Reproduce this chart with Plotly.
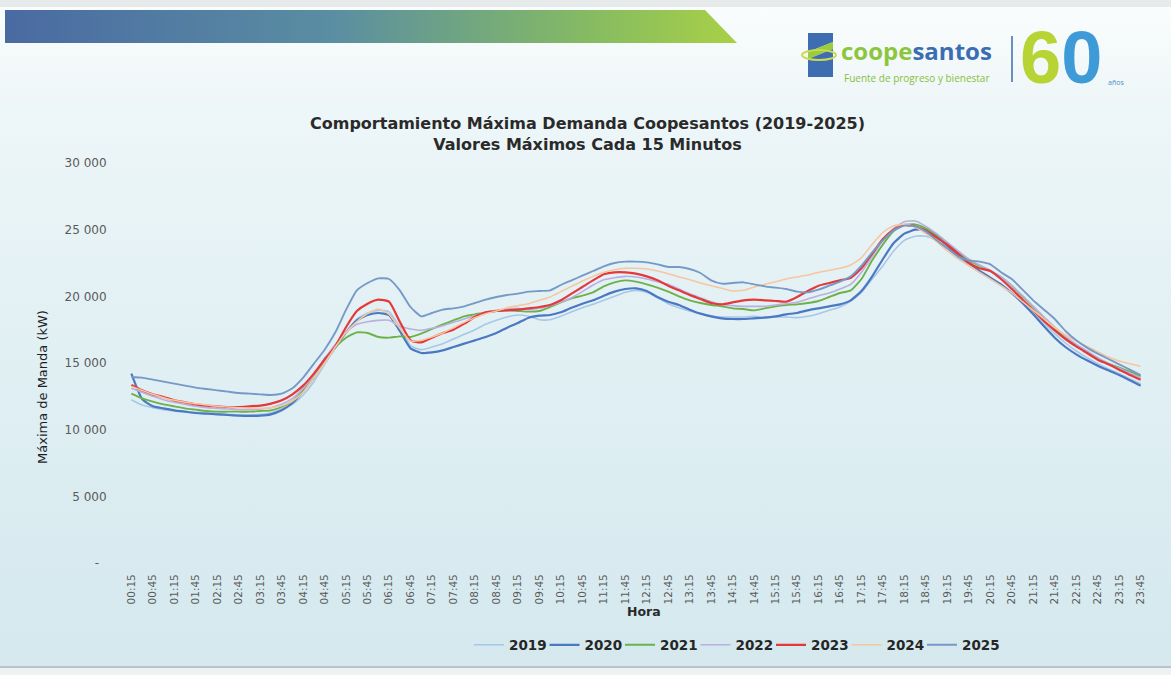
import base64
import plotly.graph_objects as go

# ---------------- data ----------------
HORAS = [f"{((i + 1) * 15) // 60:02d}:{((i + 1) * 15) % 60:02d}" for i in range(95)]
TICK_HORAS = HORAS[::2]

ANIOS = ["2019", "2020", "2021", "2022", "2023", "2024", "2025"]

D2019 = [12250, 11850, 11650, 11500, 11400, 11350, 11300, 11250, 11200, 11150,
         11100, 11100, 11150, 11250, 11550, 11900, 12600, 13600, 14900, 16100,
         17300, 18300, 18750, 18950, 18850, 17700, 16300, 16000, 16200, 16450,
         16800, 17150, 17500, 17900, 18200, 18450, 18600, 18500, 18250, 18250,
         18500, 18850, 19150, 19400, 19700, 20000, 20300, 20450, 20300, 19900,
         19450, 19150, 18900, 18700, 18550, 18450, 18450, 18450, 18500, 18450,
         18450, 18450, 18400, 18500, 18700, 18950, 19200, 19650, 20300, 21300,
         22300, 23400, 24200, 24500, 24500, 24200, 23600, 22900, 22300, 21800,
         21300, 20800, 20200, 19500, 18800, 18000, 17200, 16500, 15900, 15400,
         14950, 14550, 14200, 13800, 13450]

D2020 = [14200, 12300, 11750, 11600, 11450, 11350, 11250, 11200, 11150, 11100,
         11050, 11030, 11050, 11150, 11450, 12000, 12900, 14000, 15300, 16200,
         17300, 18200, 18600, 18750, 18600, 17400, 16100, 15750, 15800, 15950,
         16200, 16450, 16700, 16950, 17250, 17650, 18000, 18400, 18550, 18600,
         18800, 19150, 19450, 19700, 20050, 20350, 20550, 20600, 20400, 19950,
         19600, 19350, 19000, 18700, 18500, 18350, 18300, 18300, 18350, 18400,
         18500, 18650, 18750, 18950, 19100, 19250, 19400, 19700, 20400, 21500,
         22800, 24000, 24700, 25000, 25000, 24500, 23800, 23050, 22500, 21900,
         21400, 20900, 20250, 19500, 18650, 17750, 16900, 16200, 15650, 15200,
         14800, 14450, 14100, 13700, 13300]

D2021 = [12700, 12350, 12100, 11900, 11750, 11600, 11500, 11400, 11350, 11350,
         11350, 11350, 11400, 11450, 11700, 12150, 12900, 13900, 15200, 16200,
         16900, 17300, 17250, 16950, 16900, 17000, 16950, 17200, 17550, 17900,
         18200, 18500, 18650, 18800, 18900, 18950, 18900, 18850, 18900, 19200,
         19550, 19850, 20050, 20300, 20750, 21050, 21200, 21100, 20900, 20650,
         20350, 20000, 19700, 19500, 19350, 19250, 19100, 19050, 18950, 19100,
         19250, 19350, 19400, 19500, 19650, 19950, 20250, 20450, 21300, 22700,
         23900, 24900, 25350, 25400, 25100, 24600, 24000, 23300, 22700, 22300,
         21900, 21450, 20800, 20000, 19200, 18400, 17600, 16900, 16350, 15850,
         15350, 14950, 14650, 14350, 14000]

D2022 = [13100, 12800, 12500, 12250, 12050, 11900, 11750, 11650, 11600, 11550,
         11500, 11500, 11550, 11650, 11900, 12350, 13100, 14100, 15300, 16400,
         17300, 17900, 18100, 18200, 18200, 17750, 17550, 17450, 17600, 17800,
         18050, 18300, 18550, 18800, 18950, 19050, 19100, 19000, 19100, 19300,
         19550, 19900, 20350, 20850, 21250, 21400, 21500, 21450, 21300, 21100,
         20900, 20550, 20200, 19900, 19600, 19400, 19300, 19250, 19250, 19250,
         19350, 19450, 19550, 19800, 20050, 20250, 20550, 20900, 21800, 23000,
         24200, 25100, 25600, 25650, 25250, 24700, 24050, 23400, 22800, 22350,
         21950, 21450, 20800, 20050, 19250, 18450, 17700, 17000, 16400, 15900,
         15400, 14950, 14600, 14250, 13900]

D2023 = [13350, 12950, 12650, 12450, 12200, 12050, 11900, 11800, 11750, 11700,
         11700, 11750, 11800, 11950, 12200, 12650, 13300, 14200, 15250, 16250,
         17700, 18900, 19450, 19750, 19600, 18100, 16700, 16550, 16900, 17250,
         17500, 17950, 18450, 18800, 18900, 18950, 19000, 19100, 19200, 19350,
         19700, 20200, 20700, 21200, 21650, 21800, 21800, 21700, 21500, 21200,
         20800, 20450, 20100, 19800, 19500, 19400, 19550, 19700, 19750, 19700,
         19650, 19600, 19950, 20400, 20800, 21000, 21200, 21400, 22100, 23200,
         24300, 25000, 25350, 25250, 24900, 24400, 23850, 23200, 22500, 22100,
         21900, 21300, 20550, 19750, 18950, 18150, 17450, 16800, 16250, 15750,
         15250, 14900, 14500, 14100, 13750]

D2024 = [13250, 12950, 12650, 12400, 12200, 12050, 11950, 11850, 11750, 11700,
         11650, 11600, 11600, 11650, 11800, 12150, 12800, 13900, 15000, 16200,
         17300, 18100, 18700, 19050, 18650, 17600, 16650, 16700, 16950, 17250,
         17650, 18050, 18400, 18700, 18900, 19150, 19300, 19450, 19700, 19950,
         20350, 20750, 21150, 21500, 21800, 22000, 22100, 22100, 22050, 21900,
         21700, 21450, 21250, 21000, 20800, 20600, 20400, 20450, 20700, 20900,
         21100, 21300, 21450, 21600, 21800, 21950, 22100, 22350, 22900, 23900,
         24800, 25300, 25400, 25200, 24700, 24100, 23400, 22800, 22300, 21800,
         21300, 20800, 20250, 19600, 18950, 18300, 17650, 17100, 16650, 16250,
         15850, 15450, 15150, 14950, 14750]

D2025 = [13950, 13900, 13750, 13600, 13450, 13300, 13150, 13050, 12950, 12850,
         12750, 12700, 12650, 12600, 12700, 13100, 13900, 14950, 16000, 17300,
         19000, 20450, 21000, 21350, 21300, 20450, 19200, 18500, 18750, 19000,
         19100, 19250, 19500, 19750, 19950, 20100, 20200, 20350, 20400, 20450,
         20850, 21200, 21550, 21900, 22250, 22500, 22600, 22600, 22550, 22400,
         22200, 22200, 22050, 21750, 21200, 20950, 21000, 21050, 20900, 20750,
         20650, 20550, 20350, 20300, 20500, 20800, 21100, 21500, 22300, 23300,
         24200, 24950, 25300, 25250, 24850, 24200, 23600, 23000, 22700, 22600,
         22400, 21800, 21300, 20500, 19700, 19000, 18300, 17400, 16700, 16150,
         15700, 15300, 14900, 14500, 14100]

SERIES = [D2019, D2020, D2021, D2022, D2023, D2024, D2025]
COLORS = ["#a6c8e8", "#4a78c2", "#6cb24a", "#b9afe0", "#e5383b", "#f6c6a0", "#7699c8"]
WIDTHS = [1.6, 2.2, 1.9, 1.6, 2.2, 1.5, 1.9]

Y_TICKS = [0, 5000, 10000, 15000, 20000, 25000, 30000]
Y_TICK_TEXT = ["-\u00a0\u00a0", "5 000", "10 000", "15 000", "20 000", "25 000", "30 000"]

TITLE = "Comportamiento Máxima Demanda Coopesantos (2019-2025)<br>Valores Máximos Cada 15 Minutos"
Y_TITLE = "Máxima de Manda (kW)"
X_TITLE = "Hora"

# ---------------- layout geometry ----------------
W, H = 1171, 675
ML, MR, MT, MB = 126, 25, 163, 112
PW, PH = W - ML - MR, H - MT - MB


def px(x):
    return (x - ML) / PW


def py(y):
    return (H - MB - y) / PH


FONT = "DejaVu Sans, Liberation Sans, Arial, sans-serif"

# background / header artwork (decorative)
svg = """<svg xmlns='http://www.w3.org/2000/svg' width='1171' height='675' viewBox='0 0 1171 675'>
<defs>
<linearGradient id='bg' x1='0' y1='0' x2='0' y2='1'>
<stop offset='0' stop-color='#f3f9fa'/><stop offset='0.45' stop-color='#e3f1f4'/><stop offset='1' stop-color='#d4e8ee'/>
</linearGradient>
<linearGradient id='bn' x1='0' y1='0' x2='1' y2='0'>
<stop offset='0' stop-color='#4a6aa2'/><stop offset='0.45' stop-color='#5a8ea2'/><stop offset='0.8' stop-color='#86bb62'/><stop offset='1' stop-color='#a8d046'/>
</linearGradient>
<linearGradient id='wt' x1='0' y1='0' x2='0' y2='1'>
<stop offset='0' stop-color='#fbfdfd'/><stop offset='1' stop-color='#eef6f7'/>
</linearGradient>
</defs>
<rect width='1171' height='675' fill='url(#bg)'/>
<rect x='0' y='0' width='1171' height='104' fill='url(#wt)'/>
<rect x='0' y='0' width='1171' height='7' fill='#e6eaea'/>
<polygon points='5,10 705,10 737,43 5,43' fill='url(#bn)'/>
<polygon points='808,33 833,33 833,42 808,52' fill='#3f6db2'/>
<polygon points='808,52 833,42 833,49 808,59' fill='#9ccc3c'/>
<polygon points='808,59 833,49 833,77 808,77' fill='#3f6db2'/>
<ellipse cx='819' cy='55' rx='17' ry='5' fill='none' stroke='#c9da4c' stroke-width='2'/>
<line x1='1012' y1='36' x2='1012' y2='82' stroke='#4a74b0' stroke-width='1.6'/>
<line x1='0' y1='667' x2='1171' y2='667' stroke='#b2b8ba' stroke-width='1.5'/>
<rect x='0' y='668' width='1171' height='7' fill='#eef2f2'/>
</svg>"""
svg_uri = "data:image/svg+xml;base64," + base64.b64encode(svg.encode("utf-8")).decode("ascii")

fig = go.Figure()

for anio, vals, col, lw in zip(ANIOS, SERIES, COLORS, WIDTHS):
    fig.add_trace(go.Scatter(
        x=HORAS, y=vals, name=anio, mode="lines",
        line=dict(color=col, width=lw, shape="spline", smoothing=0.5),
    ))

# invisible spacer entry so the last legend label is not clipped
fig.add_trace(go.Scatter(
    x=[HORAS[0]], y=[None], name="\u00a0", mode="lines",
    line=dict(color="rgba(0,0,0,0)", width=0), hoverinfo="skip",
))

fig.update_layout(
    width=W, height=H,
    margin=dict(l=ML, r=MR, t=MT, b=MB, autoexpand=False),
    paper_bgcolor="#e6f2f5",
    plot_bgcolor="rgba(0,0,0,0)",
    font=dict(family=FONT, color="#333333"),
    showlegend=True,
    legend=dict(
        orientation="h", x=px(469), y=py(645), xanchor="left", yanchor="middle",
        font=dict(family=FONT, size=13.5, color="#262626", weight="bold"),
        bgcolor="rgba(0,0,0,0)", itemwidth=30, traceorder="normal",
        entrywidth=30.5, entrywidthmode="pixels",
    ),
    images=[dict(
        source=svg_uri, xref="paper", yref="paper",
        x=px(0), y=py(0), sizex=W / PW, sizey=H / PH,
        xanchor="left", yanchor="top", sizing="stretch", layer="below",
    )],
    xaxis=dict(
        type="category", range=[-0.5, 94.5],
        tickmode="array", tickvals=TICK_HORAS, ticktext=TICK_HORAS,
        tickangle=-90, tickfont=dict(family=FONT, size=10.5, color="#5a5a5a"),
        ticks="outside", ticklen=6, tickcolor="rgba(0,0,0,0)",
        showgrid=False, showline=False, zeroline=False,
    ),
    yaxis=dict(
        range=[0, 30000], tickmode="array", tickvals=Y_TICKS, ticktext=Y_TICK_TEXT,
        tickfont=dict(family=FONT, size=12, color="#5a5a5a"),
        ticks="outside", ticklen=16, tickcolor="rgba(0,0,0,0)",
        showgrid=False, showline=False, zeroline=False,
    ),
    annotations=[
        dict(text=TITLE, x=px(587), y=py(134), xref="paper", yref="paper",
             xanchor="center", yanchor="middle", showarrow=False,
             font=dict(family=FONT, size=16, color="#2a2a2a", weight="bold")),
        dict(text=Y_TITLE, x=px(42), y=py(387), xref="paper", yref="paper",
             xanchor="center", yanchor="middle", showarrow=False, textangle=-90,
             font=dict(family=FONT, size=13, color="#1e1e1e")),
        dict(text=X_TITLE, x=px(644), y=py(611), xref="paper", yref="paper",
             xanchor="center", yanchor="middle", showarrow=False,
             font=dict(family=FONT, size=12.5, color="#2a2a2a", weight="bold")),
        dict(text="<span style='color:#8cc63f'>coope</span><span style='color:#3b6db3'>santos</span>",
             x=px(916), y=py(51), xref="paper", yref="paper",
             xanchor="center", yanchor="middle", showarrow=False,
             font=dict(family="Open Sans, Lato, sans-serif", size=24, weight="bold")),
        dict(text="Fuente de progreso y bienestar", x=px(916), y=py(78),
             xref="paper", yref="paper", xanchor="center", yanchor="middle", showarrow=False,
             font=dict(family="Open Sans, Lato, sans-serif", size=10, color="#86bf3c")),
        dict(text="<span style='color:#b7d334'>6</span><span style='color:#3f9bd8'>0</span>",
             x=px(1061), y=py(57), xref="paper", yref="paper",
             xanchor="center", yanchor="middle", showarrow=False,
             font=dict(family="Liberation Sans, Arial, sans-serif", size=74, weight="bold")),
        dict(text="años", x=px(1116), y=py(82), xref="paper", yref="paper",
             xanchor="center", yanchor="middle", showarrow=False,
             font=dict(family="Open Sans, sans-serif", size=7, color="#3f8fc8")),
    ],
)

fig.write_html(
    "out.html",
    config={"displayModeBar": False},
    post_script="document.body.style.margin='0px';document.body.style.padding='0px';",
)
